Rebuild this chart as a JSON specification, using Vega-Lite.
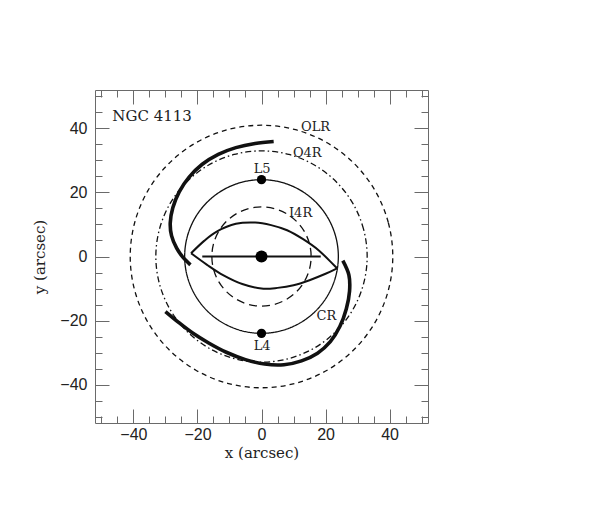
{
  "$schema": "https://vega.github.io/schema/vega-lite/v6.json",
  "width": 333,
  "height": 333,
  "autosize": "none",
  "padding": {"left": 95, "top": 90, "right": 170, "bottom": 83},
  "background": "white",
  "config": {
    "view": {"stroke": null},
    "axis": {
      "grid": false,
      "domainColor": "#6a6a6a",
      "tickColor": "#6a6a6a",
      "domainWidth": 1,
      "tickWidth": 1,
      "labelColor": "#222222",
      "titleColor": "#222222",
      "labelFont": "Liberation Sans",
      "labelFontSize": 16,
      "titleFont": "DejaVu Serif",
      "titleFontSize": 15,
      "titleFontWeight": "normal",
      "labelFlush": false,
      "labelOverlap": false
    }
  },
  "datasets": {
    "circles": [
      {"c":"OLR","x":41,"y":0},{"c":"OLR","x":39.6,"y":10.61},{"c":"OLR","x":35.51,"y":20.5},{"c":"OLR","x":28.99,"y":28.99},{"c":"OLR","x":20.5,"y":35.51},{"c":"OLR","x":10.61,"y":39.6},{"c":"OLR","x":0,"y":41},{"c":"OLR","x":-10.61,"y":39.6},{"c":"OLR","x":-20.5,"y":35.51},{"c":"OLR","x":-28.99,"y":28.99},{"c":"OLR","x":-35.51,"y":20.5},{"c":"OLR","x":-39.6,"y":10.61},{"c":"OLR","x":-41,"y":0},{"c":"OLR","x":-39.6,"y":-10.61},{"c":"OLR","x":-35.51,"y":-20.5},{"c":"OLR","x":-28.99,"y":-28.99},{"c":"OLR","x":-20.5,"y":-35.51},{"c":"OLR","x":-10.61,"y":-39.6},{"c":"OLR","x":0,"y":-41},{"c":"OLR","x":10.61,"y":-39.6},{"c":"OLR","x":20.5,"y":-35.51},{"c":"OLR","x":28.99,"y":-28.99},{"c":"OLR","x":35.51,"y":-20.5},{"c":"OLR","x":39.6,"y":-10.61},
      {"c":"O4R","x":33,"y":0},{"c":"O4R","x":31.87,"y":8.54},{"c":"O4R","x":28.58,"y":16.5},{"c":"O4R","x":23.33,"y":23.33},{"c":"O4R","x":16.5,"y":28.58},{"c":"O4R","x":8.54,"y":31.87},{"c":"O4R","x":0,"y":33},{"c":"O4R","x":-8.54,"y":31.87},{"c":"O4R","x":-16.5,"y":28.58},{"c":"O4R","x":-23.33,"y":23.33},{"c":"O4R","x":-28.58,"y":16.5},{"c":"O4R","x":-31.87,"y":8.54},{"c":"O4R","x":-33,"y":0},{"c":"O4R","x":-31.87,"y":-8.54},{"c":"O4R","x":-28.58,"y":-16.5},{"c":"O4R","x":-23.33,"y":-23.33},{"c":"O4R","x":-16.5,"y":-28.58},{"c":"O4R","x":-8.54,"y":-31.87},{"c":"O4R","x":0,"y":-33},{"c":"O4R","x":8.54,"y":-31.87},{"c":"O4R","x":16.5,"y":-28.58},{"c":"O4R","x":23.33,"y":-23.33},{"c":"O4R","x":28.58,"y":-16.5},{"c":"O4R","x":31.87,"y":-8.54},
      {"c":"CR","x":24,"y":0},{"c":"CR","x":23.18,"y":6.21},{"c":"CR","x":20.78,"y":12},{"c":"CR","x":16.97,"y":16.97},{"c":"CR","x":12,"y":20.78},{"c":"CR","x":6.21,"y":23.18},{"c":"CR","x":0,"y":24},{"c":"CR","x":-6.21,"y":23.18},{"c":"CR","x":-12,"y":20.78},{"c":"CR","x":-16.97,"y":16.97},{"c":"CR","x":-20.78,"y":12},{"c":"CR","x":-23.18,"y":6.21},{"c":"CR","x":-24,"y":0},{"c":"CR","x":-23.18,"y":-6.21},{"c":"CR","x":-20.78,"y":-12},{"c":"CR","x":-16.97,"y":-16.97},{"c":"CR","x":-12,"y":-20.78},{"c":"CR","x":-6.21,"y":-23.18},{"c":"CR","x":0,"y":-24},{"c":"CR","x":6.21,"y":-23.18},{"c":"CR","x":12,"y":-20.78},{"c":"CR","x":16.97,"y":-16.97},{"c":"CR","x":20.78,"y":-12},{"c":"CR","x":23.18,"y":-6.21},
      {"c":"I4R","x":15.5,"y":0},{"c":"I4R","x":14.97,"y":4.01},{"c":"I4R","x":13.42,"y":7.75},{"c":"I4R","x":10.96,"y":10.96},{"c":"I4R","x":7.75,"y":13.42},{"c":"I4R","x":4.01,"y":14.97},{"c":"I4R","x":0,"y":15.5},{"c":"I4R","x":-4.01,"y":14.97},{"c":"I4R","x":-7.75,"y":13.42},{"c":"I4R","x":-10.96,"y":10.96},{"c":"I4R","x":-13.42,"y":7.75},{"c":"I4R","x":-14.97,"y":4.01},{"c":"I4R","x":-15.5,"y":0},{"c":"I4R","x":-14.97,"y":-4.01},{"c":"I4R","x":-13.42,"y":-7.75},{"c":"I4R","x":-10.96,"y":-10.96},{"c":"I4R","x":-7.75,"y":-13.42},{"c":"I4R","x":-4.01,"y":-14.97},{"c":"I4R","x":0,"y":-15.5},{"c":"I4R","x":4.01,"y":-14.97},{"c":"I4R","x":7.75,"y":-13.42},{"c":"I4R","x":10.96,"y":-10.96},{"c":"I4R","x":13.42,"y":-7.75},{"c":"I4R","x":14.97,"y":-4.01}
    ],
    "lens": [
      {"c":"upper","x":-22,"y":1},{"c":"upper","x":-18,"y":4.8},{"c":"upper","x":-14,"y":7.8},{"c":"upper","x":-8,"y":10.2},{"c":"upper","x":-2,"y":10.6},{"c":"upper","x":3,"y":9.8},{"c":"upper","x":8,"y":8.2},{"c":"upper","x":13,"y":5.4},{"c":"upper","x":18,"y":1.8},{"c":"upper","x":23.6,"y":-3.7},
      {"c":"lower","x":-22,"y":1},{"c":"lower","x":-17,"y":-2.6},{"c":"lower","x":-12,"y":-5.8},{"c":"lower","x":-6,"y":-8.6},{"c":"lower","x":0,"y":-10},{"c":"lower","x":5,"y":-9.8},{"c":"lower","x":10,"y":-9},{"c":"lower","x":15,"y":-7.4},{"c":"lower","x":20,"y":-5.4},{"c":"lower","x":23.6,"y":-3.7},
      {"c":"bar","x":-18.5,"y":0},{"c":"bar","x":18.5,"y":0}
    ],
    "arms": [
      {"c":"a1","x":3.8,"y":35.9},{"c":"a1","x":-2,"y":35.3},{"c":"a1","x":-8,"y":34.0},{"c":"a1","x":-13.5,"y":31.9},{"c":"a1","x":-18.5,"y":28.8},{"c":"a1","x":-22.6,"y":24.8},{"c":"a1","x":-25.7,"y":20.2},{"c":"a1","x":-27.7,"y":15.2},{"c":"a1","x":-28.5,"y":10.5},{"c":"a1","x":-28.1,"y":6.5},{"c":"a1","x":-26.5,"y":2.6},{"c":"a1","x":-24.5,"y":-0.3},{"c":"a1","x":-22.2,"y":-2.6},
      {"c":"a2","x":-30,"y":-17.2},{"c":"a2","x":-26,"y":-20.5},{"c":"a2","x":-21.5,"y":-23.9},{"c":"a2","x":-16.5,"y":-27},{"c":"a2","x":-11,"y":-29.9},{"c":"a2","x":-5,"y":-32.2},{"c":"a2","x":1,"y":-33.6},{"c":"a2","x":7,"y":-33.8},{"c":"a2","x":12.5,"y":-32.6},{"c":"a2","x":17.5,"y":-30.2},{"c":"a2","x":21.5,"y":-26.6},{"c":"a2","x":24.5,"y":-21.8},{"c":"a2","x":26.5,"y":-16.3},{"c":"a2","x":27.5,"y":-10.8},{"c":"a2","x":27.3,"y":-5.8},{"c":"a2","x":25.4,"y":-1.3}
    ],
    "lagrange": [
      {"p":"L5","x":0,"y":24},{"p":"L4","x":0,"y":-24}
    ],
    "centre": [
      {"p":"nucleus","x":0,"y":0}
    ],
    "labels": [
      {"t":"OLR","x":16.9,"y":40.4},{"t":"O4R","x":14.3,"y":32.2},{"t":"L5","x":0.2,"y":27.3},{"t":"I4R","x":12.2,"y":13.5},{"t":"CR","x":20.3,"y":-18.6},{"t":"L4","x":0.2,"y":-27.9}
    ],
    "name": [
      {"t":"NGC 4113","x":-46.6,"y":43.9}
    ]
  },
  "layer": [
    {
      "data": {"name": "circles"},
      "mark": {"type": "line", "interpolate": "cardinal-closed", "color": "#111111", "strokeWidth": 1.3},
      "encoding": {
        "x": {"field": "x", "type": "quantitative", "scale": {"domain": [-52, 52], "nice": false, "zero": false},
          "axis": {"orient": "bottom", "values": [-40, -20, 0, 20, 40], "tickSize": -14, "labelPadding": 17, "title": "x (arcsec)", "titlePadding": 3}},
        "y": {"field": "y", "type": "quantitative", "scale": {"domain": [-52, 52], "nice": false, "zero": false},
          "axis": {"orient": "left", "values": [-40, -20, 0, 20, 40], "tickSize": -14, "labelPadding": 22, "title": "y (arcsec)", "titlePadding": 12}},
        "strokeDash": {"field": "c", "type": "nominal", "legend": null,
          "scale": {"domain": ["OLR", "O4R", "I4R", "CR"], "range": [[5, 4], [6, 3, 1.5, 3], [8, 5], [1, 0]]}},
        "order": {"value": null}
      }
    },
    {
      "data": {"name": "lens"},
      "mark": {"type": "line", "interpolate": "cardinal", "color": "#111111", "strokeWidth": 2},
      "encoding": {
        "x": {"field": "x", "type": "quantitative", "scale": {"domain": [-52, 52], "nice": false, "zero": false},
          "axis": {"orient": "bottom", "values": [-50, -45, -35, -30, -25, -15, -10, -5, 5, 10, 15, 25, 30, 35, 45, 50], "tickSize": -7, "labels": false, "title": null, "domain": false}},
        "y": {"field": "y", "type": "quantitative", "scale": {"domain": [-52, 52], "nice": false, "zero": false},
          "axis": {"orient": "left", "values": [-50, -45, -35, -30, -25, -15, -10, -5, 5, 10, 15, 25, 30, 35, 45, 50], "tickSize": -7, "labels": false, "title": null, "domain": false}},
        "detail": {"field": "c", "type": "nominal"},
        "order": {"value": null}
      }
    },
    {
      "data": {"name": "arms"},
      "mark": {"type": "line", "interpolate": "catmull-rom", "color": "#111111", "strokeWidth": 3.6, "strokeCap": "butt"},
      "encoding": {
        "x": {"field": "x", "type": "quantitative", "scale": {"domain": [-52, 52], "nice": false, "zero": false},
          "axis": {"orient": "top", "values": [-40, -20, 0, 20, 40], "tickSize": -14, "labels": false, "title": null}},
        "y": {"field": "y", "type": "quantitative", "scale": {"domain": [-52, 52], "nice": false, "zero": false},
          "axis": {"orient": "right", "values": [-40, -20, 0, 20, 40], "tickSize": -14, "labels": false, "title": null}},
        "detail": {"field": "c", "type": "nominal"},
        "order": {"value": null}
      }
    },
    {
      "data": {"name": "lagrange"},
      "mark": {"type": "point", "shape": "circle", "filled": true, "color": "#000000", "size": 86, "opacity": 1},
      "encoding": {
        "x": {"field": "x", "type": "quantitative", "scale": {"domain": [-52, 52], "nice": false, "zero": false},
          "axis": {"orient": "top", "values": [-50, -45, -35, -30, -25, -15, -10, -5, 5, 10, 15, 25, 30, 35, 45, 50], "tickSize": -7, "labels": false, "title": null, "domain": false}},
        "y": {"field": "y", "type": "quantitative", "scale": {"domain": [-52, 52], "nice": false, "zero": false},
          "axis": {"orient": "right", "values": [-50, -45, -35, -30, -25, -15, -10, -5, 5, 10, 15, 25, 30, 35, 45, 50], "tickSize": -7, "labels": false, "title": null, "domain": false}}
      }
    },
    {
      "data": {"name": "centre"},
      "mark": {"type": "point", "shape": "circle", "filled": true, "color": "#000000", "size": 144, "opacity": 1},
      "encoding": {
        "x": {"field": "x", "type": "quantitative", "axis": null},
        "y": {"field": "y", "type": "quantitative", "axis": null}
      }
    },
    {
      "data": {"name": "labels"},
      "mark": {"type": "text", "font": "DejaVu Serif", "fontSize": 13, "color": "#222222", "align": "center", "baseline": "middle"},
      "encoding": {
        "x": {"field": "x", "type": "quantitative", "axis": null},
        "y": {"field": "y", "type": "quantitative", "axis": null},
        "text": {"field": "t"}
      }
    },
    {
      "data": {"name": "name"},
      "mark": {"type": "text", "font": "DejaVu Serif", "fontSize": 15, "color": "#222222", "align": "left", "baseline": "middle"},
      "encoding": {
        "x": {"field": "x", "type": "quantitative", "axis": null},
        "y": {"field": "y", "type": "quantitative", "axis": null},
        "text": {"field": "t"}
      }
    }
  ],
  "resolve": {"axis": {"x": "independent", "y": "independent"}}
}
